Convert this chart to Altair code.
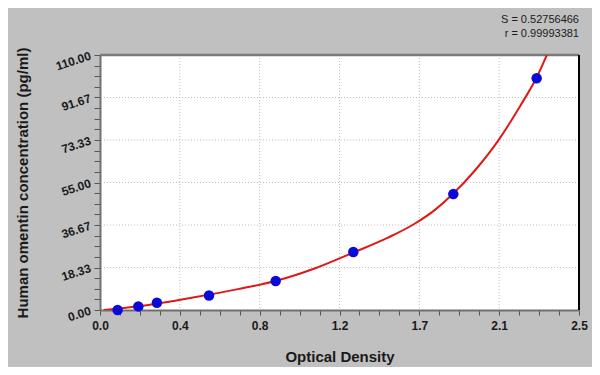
import altair as alt
import pandas as pd

# Standard points (optical density vs concentration)
OD = [0.092, 0.200, 0.297, 0.569, 0.917, 1.322, 1.844, 2.279]
CONC = [0.0, 1.56, 3.125, 6.25, 12.5, 25.0, 50.0, 100.0]

# Fitted curve
CURVE_X = [0.02, 0.20, 0.50, 0.72, 0.92, 1.12, 1.32, 1.50, 1.64, 1.75, 1.84, 1.96, 2.08, 2.19, 2.28, 2.34]
CURVE_Y = [0.0, 1.6, 5.6, 9.0, 12.6, 17.9, 24.7, 31.1, 37.1, 43.3, 49.9, 60.5, 73.3, 87.6, 100.5, 111.5]

XTICK_LABELS = ['0.0', '0.4', '0.8', '1.2', '1.7', '2.1', '2.5']
YTICK_LABELS = ['0.00', '18.33', '36.67', '55.00', '73.33', '91.67', '110.00']
X_MAX = 2.5
Y_MAX = 110.0
S_TEXT = "S = 0.52756466"
R_TEXT = "r = 0.99993381"

W, H = 479, 255
FONT = "Liberation Sans"
NMAJ = len(XTICK_LABELS) - 1
NSUB = 4

x_major = [X_MAX * i / NMAJ for i in range(NMAJ + 1)]
y_major = [Y_MAX * i / NMAJ for i in range(NMAJ + 1)]
x_all = [X_MAX * i / (NMAJ * NSUB) for i in range(NMAJ * NSUB + 1)]
y_all = [Y_MAX * i / (NMAJ * NSUB) for i in range(NMAJ * NSUB + 1)]

xlab = "[" + ",".join("'%s'" % s for s in XTICK_LABELS) + "]"
ylab = "[" + ",".join("'%s'" % s for s in YTICK_LABELS) + "]"
n = NMAJ * NSUB

x_axis = alt.Axis(
    values=x_all, grid=False, title="Optical Density",
    labelExpr=f"round(datum.value*{n}/{X_MAX}) % {NSUB} == 0 ? {xlab}[round(datum.value*{NMAJ}/{X_MAX})] : ''",
    labelOverlap=False, labelFlush=False, labelFont=FONT, labelFontSize=12,
    labelFontWeight="bold", labelColor="#1a1a1a", labelPadding=5,
    tickSize=5, tickColor="#555555", tickWidth=1,
    domainColor="#707070", domainWidth=2,
    titleFont=FONT, titleFontSize=15, titleFontWeight="bold", titleColor="#1a1a1a",
    titleY=39, titleBaseline="top",
)
y_axis = alt.Axis(
    values=y_all, grid=False, title="Human omentin concentration (pg/ml)",
    labelExpr=f"round(datum.value*{n}/{Y_MAX}) % {NSUB} == 0 ? {ylab}[round(datum.value*{NMAJ}/{Y_MAX})] : ''",
    labelOverlap=False, labelFlush=False, labelFont=FONT, labelFontSize=12,
    labelFontWeight="bold", labelColor="#1a1a1a", labelPadding=4, labelAngle=-18,
    tickSize=6, tickColor="#555555", tickWidth=1,
    domainColor="#707070", domainWidth=2,
    titleFont=FONT, titleFontSize=15, titleFontWeight="bold", titleColor="#1a1a1a",
    titleX=-70, titleY=H / 2, titleAngle=-90, titleBaseline="bottom", titleAlign="center",
)

xs = alt.Scale(domain=[0, X_MAX], nice=False, zero=False)
ys = alt.Scale(domain=[0, Y_MAX], nice=False, zero=False)

pts = pd.DataFrame({"x": OD, "y": CONC})
curve = pd.DataFrame({"x": CURVE_X, "y": CURVE_Y})
vgrid = pd.DataFrame({"x": x_major[1:-1]})
hgrid = pd.DataFrame({"y": y_major[1:-1]})
right_edge = pd.DataFrame({"x": [X_MAX]})
top_edge = pd.DataFrame({"y": [Y_MAX]})

line = alt.Chart(curve).mark_line(color="#e01818", strokeWidth=2, interpolate="monotone", clip=True).encode(
    x=alt.X("x:Q", scale=xs, axis=x_axis),
    y=alt.Y("y:Q", scale=ys, axis=y_axis),
)
gv = alt.Chart(vgrid).mark_rule(color="#bdbdbd", strokeDash=[1, 2], strokeWidth=1).encode(
    x=alt.X("x:Q", scale=xs, axis=x_axis)
)
gh = alt.Chart(hgrid).mark_rule(color="#bdbdbd", strokeDash=[1, 2], strokeWidth=1).encode(
    y=alt.Y("y:Q", scale=ys, axis=y_axis)
)
points = alt.Chart(pts).mark_circle(color="#0a0ad8", opacity=1, size=110).encode(
    x=alt.X("x:Q", scale=xs, axis=x_axis),
    y=alt.Y("y:Q", scale=ys, axis=y_axis),
)
redge = alt.Chart(right_edge).mark_rule(color="#000000", strokeWidth=2).encode(
    x=alt.X("x:Q", scale=xs, axis=x_axis)
)
tedge = alt.Chart(top_edge).mark_rule(color="#7a7a7a", strokeWidth=2.5).encode(
    y=alt.Y("y:Q", scale=ys, axis=y_axis)
)

chart = alt.layer(gv, gh, tedge, redge, line, points).properties(
    width=W, height=H,
    autosize=alt.AutoSizeParams(type="none"),
    padding={"left": 92, "top": 47, "right": 13, "bottom": 57},
    background="#c0c0c0",
    title=alt.TitleParams(
        text=S_TEXT, subtitle=R_TEXT, anchor="end", frame="group",
        font=FONT, fontSize=11, fontWeight="normal", color="#1a1a1a",
        subtitleFont=FONT, subtitleFontSize=11, subtitleColor="#1a1a1a",
        subtitlePadding=3, offset=8,
    ),
).configure_view(fill="white", stroke=None)

chart.save("out.html", embed_options={"renderer": "svg", "actions": False})
